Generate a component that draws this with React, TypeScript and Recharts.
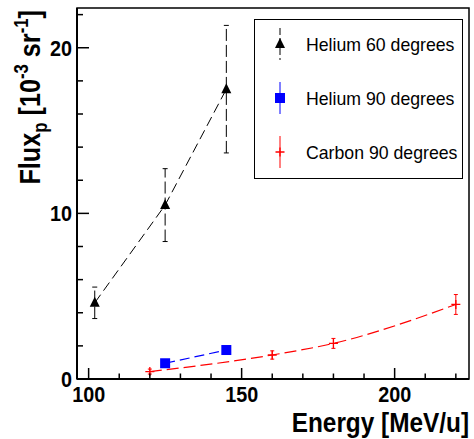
import {
  ComposedChart,
  Line,
  Scatter,
  XAxis,
  YAxis,
  ErrorBar,
  ReferenceArea,
  Legend,
} from "recharts";

// Helium at 60 degrees
const he60Energy = [102, 125, 145];
const he60Flux = [4.6, 10.5, 17.5];
const he60Err = [0.95, 2.2, 3.85];

// Helium at 90 degrees
const he90Energy = [125, 145];
const he90Flux = [0.95, 1.75];
const he90Err = [0.1, 0.15];

// Carbon at 90 degrees
const c90Energy = [120, 160, 180, 220];
const c90Flux = [0.45, 1.45, 2.15, 4.5];
const c90Err = [0.15, 0.25, 0.3, 0.6];

const xTicks = [100, 110, 120, 130, 140, 150, 160, 170, 180, 190, 200, 210, 220];
const yTicks = [0, 2, 4, 6, 8, 10, 12, 14, 16, 18, 20, 22];
const xDomain: [number, number] = [96.2, 224.3];
const yDomain: [number, number] = [0, 22.4];

const FONT = "'Liberation Sans', Arial, Helvetica, sans-serif";

const zip = (xs: number[], ys: number[], es: number[]) =>
  xs.map((x, i) => ({ x, y: ys[i], err: es[i] }));

const he60 = zip(he60Energy, he60Flux, he60Err);
const he90 = zip(he90Energy, he90Flux, he90Err);
const c90 = zip(c90Energy, c90Flux, c90Err);

function XTick(props: any) {
  const { x, y, payload } = props;
  const major = payload.value % 50 === 0;
  return (
    <g>
      <line x1={x} y1={y} x2={x} y2={y - (major ? 11 : 5.5)} stroke="#000" strokeWidth={1.5} />
      {major && (
        <text
          transform={`translate(${x},${y + 23}) scale(0.9,1)`}
          textAnchor="middle"
          fontSize={22}
          fontWeight="bold"
          fontFamily={FONT}
          fill="#000"
        >
          {payload.value}
        </text>
      )}
    </g>
  );
}

function YTick(props: any) {
  const { x, y, payload } = props;
  const major = payload.value % 10 === 0;
  return (
    <g>
      <line x1={x} y1={y} x2={x + (major ? 12 : 6)} y2={y} stroke="#000" strokeWidth={1.5} />
      {major && (
        <text
          transform={`translate(${x - 5},${y + 8}) scale(0.9,1)`}
          textAnchor="end"
          fontSize={22}
          fontWeight="bold"
          fontFamily={FONT}
          fill="#000"
        >
          {payload.value}
        </text>
      )}
    </g>
  );
}

const Triangle = (p: any) => (
  <polygon
    points={`${p.cx},${p.cy - 6} ${p.cx - 5},${p.cy + 4} ${p.cx + 5},${p.cy + 4}`}
    fill="#000"
  />
);
const Square = (p: any) => (
  <rect x={p.cx - 5} y={p.cy - 5} width={10} height={10} fill="#0000ff" />
);
const Plus = (p: any) => (
  <path
    d={`M${p.cx - 4.5},${p.cy}H${p.cx + 4.5}M${p.cx},${p.cy - 4.5}V${p.cy + 4.5}`}
    stroke="#ff0000"
    strokeWidth={1.3}
  />
);

function LegendBox() {
  const rows = [
    { label: "Helium 60 degrees", color: "#000", dash: "7 3", shape: "tri" },
    { label: "Helium 90 degrees", color: "#0000ff", dash: undefined, shape: "sq" },
    { label: "Carbon 90 degrees", color: "#ff0000", dash: undefined, shape: "plus" },
  ];
  return (
    <svg width={210} height={161} style={{ display: "block" }}>
      <rect x={0.5} y={0.5} width={208} height={159} fill="#fff" stroke="#000" strokeWidth={1} />
      {rows.map((r, i) => {
        const cy = 25 + i * 54;
        const cx = 26;
        return (
          <g key={r.label}>
            <line x1={cx} y1={cy - 16} x2={cx} y2={cy + 16} stroke={r.color} strokeDasharray={r.dash} />
            {r.shape === "tri" && <Triangle cx={cx} cy={cy} />}
            {r.shape === "sq" && <Square cx={cx} cy={cy} />}
            {r.shape === "plus" && <Plus cx={cx} cy={cy} />}
            <text x={52} y={cy + 6.5} fontSize={17.7} fontFamily={FONT} fill="#000">
              {r.label}
            </text>
          </g>
        );
      })}
    </svg>
  );
}

export default function App() {
  return (
    <div style={{ position: "absolute", left: 0, top: 0, background: "#fff" }}>
      <ComposedChart
        width={474}
        height={439}
        margin={{ top: 8, right: 5, bottom: 0, left: 0 }}
      >
        <XAxis
          type="number"
          dataKey="x"
          domain={xDomain}
          ticks={xTicks}
          allowDataOverflow
          height={60}
          tickSize={0}
          tickMargin={0}
          tickLine={false}
          tick={<XTick />}
          axisLine={{ stroke: "#000", strokeWidth: 2 }}
          interval={0}
        />
        <YAxis
          type="number"
          dataKey="y"
          domain={yDomain}
          ticks={yTicks}
          allowDataOverflow
          width={77}
          tickSize={0}
          tickMargin={0}
          tickLine={false}
          tick={<YTick />}
          axisLine={{ stroke: "#000", strokeWidth: 2 }}
          interval={0}
        />
        <ReferenceArea
          x1={xDomain[0]}
          x2={xDomain[1]}
          y1={yDomain[0]}
          y2={yDomain[1]}
          fill="none"
          stroke="#000"
          strokeWidth={1.5}
          ifOverflow="visible"
        />
        <Line data={he60} dataKey="y" type="linear" stroke="#000" strokeWidth={1} strokeDasharray="10 5" dot={false} isAnimationActive={false} />
        <Line data={he90} dataKey="y" type="linear" stroke="#0000ff" strokeWidth={1.2} strokeDasharray="10 5" dot={false} isAnimationActive={false} />
        <Line data={c90} dataKey="y" type="monotone" stroke="#ff0000" strokeWidth={1.2} strokeDasharray="12 5" dot={false} isAnimationActive={false} />
        <Scatter data={he60} dataKey="y" shape={Triangle} isAnimationActive={false}>
          <ErrorBar dataKey="err" direction="y" width={2.5} stroke="#000" strokeWidth={1} strokeDasharray="12 4" />
        </Scatter>
        <Scatter data={he90} dataKey="y" shape={Square} isAnimationActive={false}>
          <ErrorBar dataKey="err" direction="y" width={2} stroke="#0000ff" strokeWidth={1} />
        </Scatter>
        <Scatter data={c90} dataKey="y" shape={Plus} isAnimationActive={false}>
          <ErrorBar dataKey="err" direction="y" width={2} stroke="#ff0000" strokeWidth={1} />
        </Scatter>
        <Legend
          layout="vertical"
          align="center"
          verticalAlign="middle"
          content={() => <LegendBox />}
          wrapperStyle={{ position: "absolute", left: 254, top: 19, width: 210, height: 161 }}
        />
        <text
          transform="translate(469,432) scale(0.87,1)"
          textAnchor="end"
          fontSize={28}
          fontWeight="bold"
          fontFamily={FONT}
          fill="#000"
        >
          Energy [MeV/u]
        </text>
        <text
          transform="translate(40,10) rotate(-90) scale(0.84,1)"
          textAnchor="end"
          fontSize={30}
          fontWeight="bold"
          fontFamily={FONT}
          fill="#000"
        >
          Flux
          <tspan fontSize={20} dy={7}>p</tspan>
          <tspan dy={-7}> [10</tspan>
          <tspan fontSize={20} dy={-12}>-3</tspan>
          <tspan dy={12}> sr</tspan>
          <tspan fontSize={20} dy={-12}>-1</tspan>
          <tspan dy={12}>]</tspan>
        </text>
      </ComposedChart>
    </div>
  );
}
